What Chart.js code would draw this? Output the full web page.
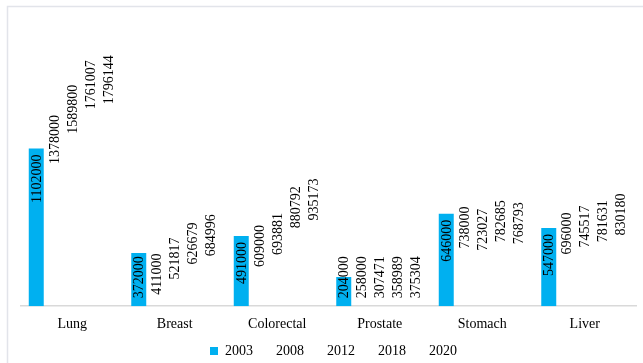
<!DOCTYPE html>
<html>
<head>
<meta charset="utf-8">
<script src="https://cdn.jsdelivr.net/npm/chart.js@4.4.1/dist/chart.umd.min.js"></script>
<style>
	html, body { margin: 0; padding: 0; background: #fff; }
	#wrap { width: 643px; height: 363px; position: relative; }
</style>
</head>
<body>
<div id="wrap"><canvas id="grafico_cancer"></canvas></div>
<script>
const categorias = ['Lung', 'Breast', 'Colorectal', 'Prostate', 'Stomach', 'Liver'];
const anios = ['2003', '2008', '2012', '2018', '2020'];

const casos2003 = [1102000, 372000, 491000, 204000, 646000, 547000];
const casos2008 = [1378000, 411000, 609000, 258000, 738000, 696000];
const casos2012 = [1589800, 521817, 693881, 307471, 723027, 745517];
const casos2018 = [1761007, 626679, 880792, 358989, 782685, 781631];
const casos2020 = [1796144, 684996, 935173, 375304, 768793, 830180];

const series = [casos2003, casos2008, casos2012, casos2018, casos2020];
// solo 2003 lleva relleno, el resto queda sin color
const colores = ['#00b0f0', 'rgba(0,0,0,0)', 'rgba(0,0,0,0)', 'rgba(0,0,0,0)', 'rgba(0,0,0,0)'];

const fuente = 'Liberation Serif';
Chart.defaults.font.family = fuente;
Chart.defaults.font.size = 14;
Chart.defaults.color = '#000';

// marco gris claro alrededor del gráfico
const marco = {
	id: 'marco',
	beforeDraw(chart) {
		const ctx = chart.ctx;
		ctx.save();
		ctx.strokeStyle = '#e2e4ea';
		ctx.lineWidth = 1.5;
		ctx.strokeRect(7.5, 6.5, 800, 500);
		ctx.restore();
	},
};

// leyenda un poco más baja (recorta su alto) y corrida a la derecha
const leyendaCompacta = {
	id: 'leyendaCompacta',
	beforeInit(chart) {
		const leyenda = chart.legend;
		const fitOriginal = leyenda.fit;
		const drawOriginal = leyenda.draw;
		leyenda.fit = function () {
			fitOriginal.call(this);
			this.height -= 5;
		};
		leyenda.draw = function () {
			this.ctx.save();
			this.ctx.translate(5, 0);
			drawOriginal.call(this);
			this.ctx.restore();
		};
	},
};

// etiquetas de valor giradas, pegadas al extremo de cada barra
const etiquetas = {
	id: 'etiquetas',
	afterDatasetsDraw(chart) {
		const ctx = chart.ctx;
		ctx.save();
		ctx.font = `14px "${fuente}"`;
		ctx.fillStyle = '#000';
		ctx.textAlign = 'left';
		ctx.textBaseline = 'middle';
		chart.data.datasets.forEach((ds, i) => {
			chart.getDatasetMeta(i).data.forEach((el, j) => {
				const texto = String(ds.data[j]);
				const ancho = ctx.measureText(texto).width;
				// si no entra dentro de la barra, se apoya sobre la base
				const arriba = Math.min(el.y + 6, el.base - 8 - ancho);
				ctx.save();
				ctx.translate(el.x, arriba + ancho);
				ctx.rotate(-Math.PI / 2);
				ctx.fillText(texto, 0, 1);
				ctx.restore();
			});
		});
		ctx.restore();
	},
};

const ctx = document.getElementById('grafico_cancer').getContext('2d');

new Chart(ctx, {
	type: 'bar',
	data: {
		labels: categorias,
		datasets: anios.map((anio, i) => ({
			label: anio,
			data: series[i],
			backgroundColor: colores[i],
			borderWidth: 0,
			categoryPercentage: 0.878,
			barPercentage: 0.833,
		})),
	},
	options: {
		responsive: true,
		maintainAspectRatio: false,
		animation: false,
		layout: {
			padding: { left: 21, right: 7, top: 20, bottom: 0 },
		},
		plugins: {
			legend: {
				position: 'bottom',
				labels: {
					boxWidth: 8,
					boxHeight: 8,
					padding: 8,
					font: { size: 14, lineHeight: 1 },
				},
			},
			tooltip: { enabled: false },
		},
		scales: {
			x: {
				grid: { display: false, drawTicks: false },
				border: { color: '#d9d9d9', width: 1.5 },
				ticks: { padding: 10, font: { size: 14 } },
				afterFit(scale) {
					scale.height -= 7;
				},
			},
			y: {
				display: false,
				min: 0,
				max: 2000000,
			},
		},
	},
	plugins: [marco, leyendaCompacta, etiquetas],
});
</script>
</body>
</html>
